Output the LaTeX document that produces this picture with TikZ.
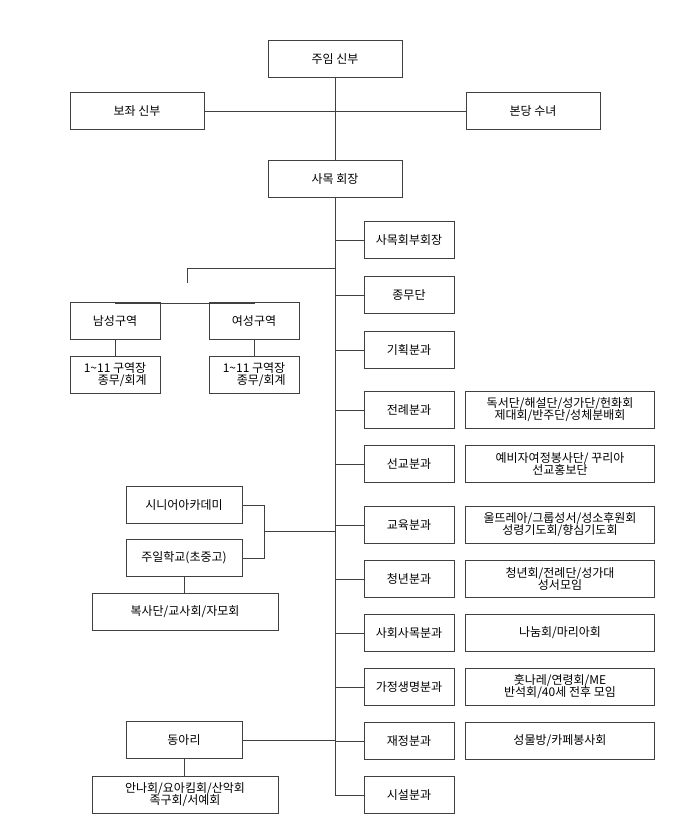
\documentclass[tikz,border=0pt]{standalone}
\usepackage{fontspec}
\setmainfont{Noto Sans CJK KR}
\begin{document}
\begin{tikzpicture}[x=1pt,y=-1pt,
  box/.style={draw=black!75,line width=0.9pt,fill=white,inner sep=1pt,align=center,font=\fontsize{12}{14}\selectfont,minimum height=37pt},
  wa/.style={box,minimum width=134pt},
  wr/.style={box,minimum width=90pt},
  wt/.style={box,minimum width=189pt},
  wl/.style={box,minimum width=116pt},
  wb/.style={box,minimum width=186pt},
  ln/.style={draw=black!75,line width=0.9pt}]
\useasboundingbox (0,0) rectangle (700,832);
\node[wa] (jum) at (335,59) {주임 신부};
\node[wa] (boj) at (137,111) {보좌 신부};
\node[wa] (bon) at (533,111) {본당 수녀};
\node[wa] (sam) at (335,179) {사목 회장};
\coordinate (t0) at (335,111);
\draw[ln] (boj) -- (bon);
\draw[ln] (jum) -- (sam);
\coordinate (tend) at (335,795);
\draw[ln] (sam) -- (tend);
% right column
\foreach \n/\y/\t in {r1/240/사목회부회장, r2/295/종무단, r3/350/기획분과, r4/410/전례분과, r5/464/선교분과, r6/525/교육분과, r7/579/청년분과, r8/633/사회사목분과, r9/687/가정생명분과, r10/741/재정분과, r11/795/시설분과}{
  \node[wr] (\n) at (409,\y) {\t};
  \coordinate (c\n) at (335,\y);
  \draw[ln] (c\n) -- (\n);
}
\node[wt] at (560,410) (s4) {독서단/해설단/성가단/헌화회\\[-2pt]제대회/반주단/성체분배회};
\node[wt] at (560,464) (s5) {예비자여정봉사단/ 꾸리아\\[-2pt]선교홍보단};
\node[wt] at (560,525) (s6) {울뜨레아/그룹성서/성소후원회\\[-2pt]성령기도회/향심기도회};
\node[wt] at (560,579) (s7) {청년회/전례단/성가대\\[-2pt]성서모임};
\node[wt] at (560,633) (s8) {나눔회/마리아회};
\node[wt] at (560,687) (s9) {훗나레/연령회/ME\\[-2pt]반석회/40세 전후 모임};
\node[wt] at (560,741) (s10) {성물방/카페봉사회};
% districts
\node[wr] (nam) at (115,321) {남성구역};
\node[wr] (yeo) at (254,321) {여성구역};
\node[wr] (nam2) at (115,375) {1\textasciitilde11 구역장\\[-2pt]\hspace*{1.2em}종무/회계};
\node[wr] (yeo2) at (254,375) {1\textasciitilde11 구역장\\[-2pt]\hspace*{1.2em}종무/회계};
\coordinate (d0) at (335,268);
\coordinate (d1) at (187,268);
\coordinate (d2) at (187,283);
\draw[ln] (d0) -- (d1) -- (d2);
\draw[ln] (nam) -- ++(0,-18) -| (yeo);
\draw[ln] (nam) -- (nam2);
\draw[ln] (yeo) -- (yeo2);
% education
\node[wl] (sen) at (184,505) {시니어아카데미};
\node[wl] (sun) at (184,558) {주일학교(초중고)};
\node[wb] (bok) at (185,612) {복사단/교사회/자모회};
\coordinate (b1) at (264,505);
\coordinate (b2) at (264,558);
\coordinate (b3) at (264,531);
\coordinate (b4) at (335,531);
\draw[ln] (sen) -- (b1) -- (b2) -- (sun);
\draw[ln] (b3) -- (b4);
\draw[ln] (sun) -- (sun|-bok.north);
% club
\node[wl] (don) at (184,740) {동아리};
\node[wb] (ann) at (185,795) {안나회/요아킴회/산악회\\[-2pt]족구회/서예회};
\coordinate (dc) at (335,740);
\draw[ln] (don) -- (dc);
\draw[ln] (don) -- (don|-ann.north);
\end{tikzpicture}
\end{document}
